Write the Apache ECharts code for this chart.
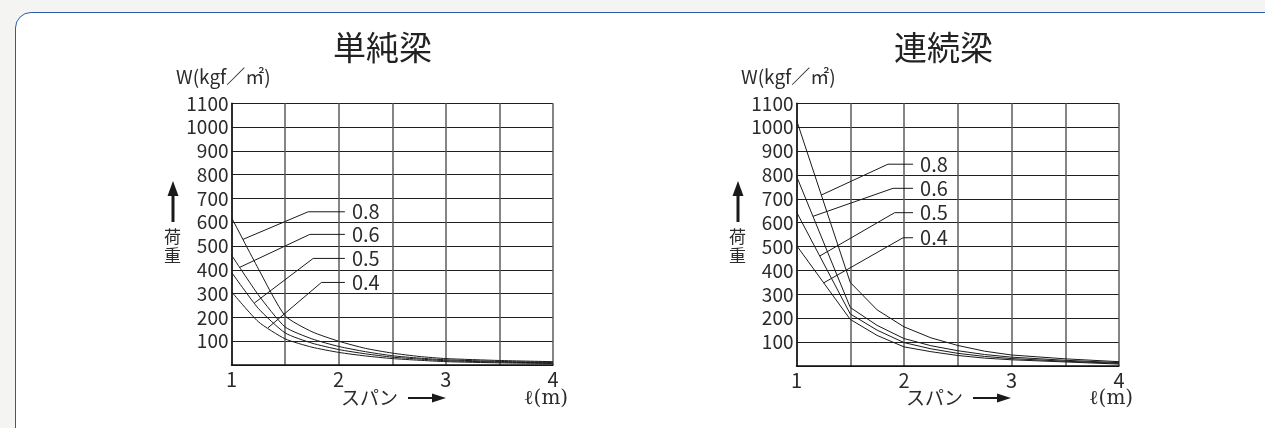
<!DOCTYPE html>
<html>
<head>
<meta charset="utf-8">
<script src="https://cdn.jsdelivr.net/npm/echarts@6/dist/echarts.min.js"></script>
<style>
html,body{margin:0;padding:0;background:#f4f4f2;width:1265px;height:428px;overflow:hidden;}
#box{position:absolute;left:15px;top:12px;width:1320px;height:440px;background:#fff;border:1.5px solid #2d5ba6;border-radius:16px;box-sizing:border-box;}
#chart{position:absolute;left:0;top:0;width:1265px;height:428px;}
</style>
</head>
<body>
<div id="box"></div>
<div id="chart"></div>
<script>
// ---- data: 単純梁 (simple beam) ----
const spanSimple = [1, 1.25, 1.5, 1.75, 2, 2.25, 2.5, 2.75, 3, 3.5, 4];
const simple08 = [620, 405, 207, 140, 100, 70, 50, 36, 27, 19, 14];
const simple06 = [462, 295, 160, 110, 78, 56, 39, 29, 22, 15, 11];
const simple05 = [390, 238, 135, 92, 65, 47, 33, 25, 18, 12, 9];
const simple04 = [308, 182, 110, 75, 53, 38, 27, 20, 14, 9, 6];
// ---- data: 連続梁 (continuous beam) ----
const spanCont = [1, 1.5, 1.75, 2, 2.25, 2.5, 2.75, 3, 3.5, 4];
const cont08 = [1030, 350, 235, 164, 118, 86, 62, 46, 30, 18];
const cont06 = [795, 245, 170, 115, 85, 64, 48, 37, 24, 14];
const cont05 = [645, 218, 150, 98, 72, 53, 40, 31, 20, 11];
const cont04 = [505, 195, 128, 80, 60, 44, 33, 26, 17, 8];
// ---- labels ----
const thickness = ['0.8', '0.6', '0.5', '0.4'];
const yTicks = [100, 200, 300, 400, 500, 600, 700, 800, 900, 1000, 1100];
const xTicks = [1, 2, 3, 4];
// leader annotations (data coords): point on curve x, elbow x, label level y
const simpleLeadX = [1.107, 1.077, 1.213, 1.34];
const simpleElbowX = [1.715, 1.731, 1.762, 1.839];
const simpleLabelY = [644, 549, 448, 347];
const simpleEndX = 2.058;
const contLeadX = [1.231, 1.153, 1.216, 1.253];
const contElbowX = [1.851, 1.898, 1.913, 1.991];
const contLabelY = [845, 744, 642, 537];
const contEndX = 2.084;

function interp(xs, ys, x) {
  for (let i = 0; i < xs.length - 1; i++) {
    if (x >= xs[i] && x <= xs[i + 1]) {
      const t = (x - xs[i]) / (xs[i + 1] - xs[i]);
      return ys[i] + t * (ys[i + 1] - ys[i]);
    }
  }
  return ys[ys.length - 1];
}
const zip = (xs, ys) => xs.map((x, i) => [x, ys[i]]);

const TXT = '#2b2b2b';
const FONT = '"Noto Sans CJK JP", "Noto Sans", sans-serif';

const chart = echarts.init(document.getElementById('chart'), null, {renderer: 'canvas'});

function xAxisDef(idx) {
  return {
    type: 'value', gridIndex: idx, min: 1, max: 4, interval: 0.5,
    axisLine: {show: true, lineStyle: {color: '#111', width: 1.5}},
    axisTick: {show: false},
    axisLabel: {
      color: TXT, fontSize: 20, fontFamily: FONT, margin: 4,
      showMinLabel: true, showMaxLabel: true,
      formatter: v => (xTicks.indexOf(v) >= 0 ? String(v) : '')
    },
    splitLine: {show: true, lineStyle: {color: '#5c5c5c', width: 1.5}}
  };
}
function yAxisDef(idx) {
  return {
    type: 'value', gridIndex: idx, min: 0, max: 1100, interval: 100,
    axisLine: {show: true, lineStyle: {color: '#111', width: 1.5}},
    axisTick: {show: false},
    axisLabel: {
      color: TXT, fontSize: 19, fontFamily: FONT, margin: 3,
      showMaxLabel: true,
      formatter: v => (yTicks.indexOf(v) >= 0 ? String(v) : '')
    },
    splitLine: {show: true, lineStyle: {color: '#1e1e1e', width: 1}}
  };
}

function curve(idx, name, xs, ys, smooth) {
  return {
    type: 'line', name: name, xAxisIndex: idx, yAxisIndex: idx,
    data: zip(xs, ys), showSymbol: false, symbol: 'none', smooth: smooth,
    lineStyle: {color: '#1a1a1a', width: 1}, silent: true, z: 5
  };
}
function leader(idx, name, xs, ys, lx, ex, ly, endX) {
  return {
    type: 'line', name: 'lead' + name, xAxisIndex: idx, yAxisIndex: idx,
    data: [
      [lx, interp(xs, ys, lx)],
      [ex, ly],
      [endX, ly]
    ],
    symbol: 'none', showSymbol: false, smooth: false,
    lineStyle: {color: '#1a1a1a', width: 1}, silent: true, z: 6,
    endLabel: {show: true, formatter: name, distance: 7, color: TXT, fontSize: 20, fontFamily: FONT}
  };
}

const simpleSets = [simple08, simple06, simple05, simple04];
const contSets = [cont08, cont06, cont05, cont04];
const series = [];
simpleSets.forEach((ys, i) => {
  series.push(curve(0, thickness[i], spanSimple, ys, 0.2));
  series.push(leader(0, thickness[i], spanSimple, ys, simpleLeadX[i], simpleElbowX[i], simpleLabelY[i], simpleEndX));
});
contSets.forEach((ys, i) => {
  series.push(curve(1, thickness[i], spanCont, ys, false));
  series.push(leader(1, thickness[i], spanCont, ys, contLeadX[i], contElbowX[i], contLabelY[i], contEndX));
});

function texts(dx, title, titleX) {
  return [
    {type: 'text', left: titleX, top: 31, style: {text: title, fontSize: 33, fontFamily: FONT, fill: '#222'}},
    {type: 'text', left: 176 + dx, top: 67, style: {text: 'W(kgf／㎡)', fontSize: 19, fontFamily: FONT, fill: TXT}},
    {type: 'line', shape: {x1: 173 + dx, y1: 222, x2: 173 + dx, y2: 194}, style: {stroke: '#1a1a1a', lineWidth: 3}},
    {type: 'polygon', shape: {points: [[173 + dx, 181], [167.5 + dx, 196], [178.5 + dx, 196]]}, style: {fill: '#1a1a1a'}},
    {type: 'text', left: 164 + dx, top: 228, style: {text: '荷', fontSize: 17, fontFamily: FONT, fill: TXT}},
    {type: 'text', left: 164 + dx, top: 247, style: {text: '重', fontSize: 17, fontFamily: FONT, fill: TXT}},
    {type: 'text', left: 341 + dx, top: 388, style: {text: 'スパン', fontSize: 19, fontFamily: FONT, fill: TXT}},
    {type: 'line', shape: {x1: 408 + dx, y1: 398, x2: 434 + dx, y2: 398}, style: {stroke: '#1a1a1a', lineWidth: 2}},
    {type: 'polygon', shape: {points: [[446 + dx, 398], [432 + dx, 393.5], [432 + dx, 402.5]]}, style: {fill: '#1a1a1a'}},
    {type: 'text', left: 524 + dx, top: 389, style: {text: 'ℓ(m)', fontSize: 20, fontFamily: '"DejaVu Serif", "Liberation Serif", serif', fill: TXT}}
  ];
}

const option = {
  backgroundColor: 'transparent',
  animation: false,
  grid: [
    {left: 231.5, top: 103.3, width: 321.5, height: 261.7, containLabel: false},
    {left: 796.5, top: 103.3, width: 322.5, height: 262.7, containLabel: false}
  ],
  xAxis: [xAxisDef(0), xAxisDef(1)],
  yAxis: [yAxisDef(0), yAxisDef(1)],
  series: series,
  graphic: texts(0, '単純梁', 333).concat(texts(565, '連続梁', 894))
};
chart.setOption(option);
</script>
</body>
</html>
